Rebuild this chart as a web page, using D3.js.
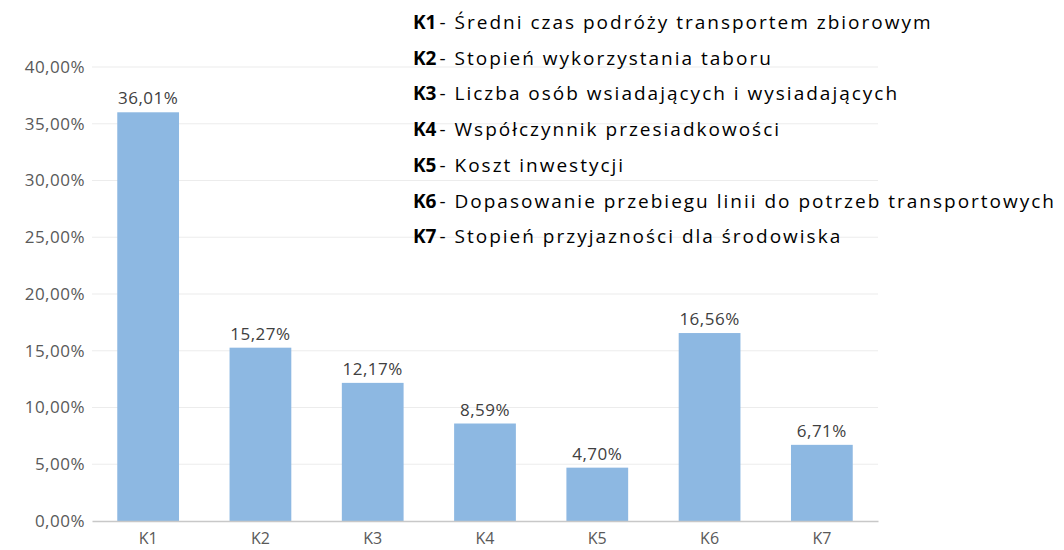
<!DOCTYPE html>
<html>
<head>
<meta charset="utf-8">
<script src="https://cdn.jsdelivr.net/npm/d3@7"></script>
<style>
  body { margin: 0; background: #fff; }
  svg { display: block; }
</style>
</head>
<body>
<script>
var categories = ['K1', 'K2', 'K3', 'K4', 'K5', 'K6', 'K7'];
var values = [36.01, 15.27, 12.17, 8.59, 4.70, 16.56, 6.71];
var yTicks = [0, 5, 10, 15, 20, 25, 30, 35, 40];
var legendNames = [
  'Średni czas podróży transportem zbiorowym',
  'Stopień wykorzystania taboru',
  'Liczba osób wsiadających i wysiadających',
  'Współczynnik przesiadkowości',
  'Koszt inwestycji',
  'Dopasowanie przebiegu linii do potrzeb transportowych',
  'Stopień przyjazności dla środowiska'
];

var w = 1064,
    h = 550;

var plotLeft = 92,
    plotRight = 878,
    plotTop = 67,
    plotBottom = 521;

var fmt = function(v) { return v.toFixed(2).replace('.', ',') + '%'; };

var svg = d3.select('body').append('svg')
  .attr('width', w)
  .attr('height', h)
  .style('font-family', '"Open Sans", sans-serif');

var x = d3.scaleBand()
  .domain(categories)
  .range([plotLeft, plotRight])
  .paddingInner(0.45)
  .paddingOuter(0.225);

var y = d3.scaleLinear()
  .domain([0, 40])
  .range([plotBottom, plotTop]);

// gridlines
svg.append('g')
  .selectAll('line')
  .data(yTicks.slice(1))
  .enter()
  .append('line')
    .attr('x1', plotLeft)
    .attr('x2', plotRight)
    .attr('y1', function(d) { return y(d); })
    .attr('y2', function(d) { return y(d); })
    .attr('stroke', '#ececec')
    .attr('stroke-width', 1.2);

// y axis labels
var yAxis = d3.axisLeft(y)
  .tickValues(yTicks)
  .tickFormat(fmt)
  .tickSize(0)
  .tickPadding(7);

svg.append('g')
  .attr('transform', 'translate(' + plotLeft + ',0)')
  .call(yAxis)
  .call(function(g) { g.select('.domain').remove(); })
  .selectAll('text')
    .attr('fill', '#595959')
    .attr('letter-spacing', '0.5px')
    .style('font-size', '17px')
    .style('font-family', '"Open Sans", sans-serif');

// bars
svg.append('g')
  .selectAll('rect')
  .data(values)
  .enter()
  .append('rect')
    .attr('x', function(d, i) { return x(categories[i]); })
    .attr('y', function(d) { return y(d); })
    .attr('width', x.bandwidth())
    .attr('height', function(d) { return y(0) - y(d); })
    .attr('fill', '#8db8e2');

// value labels
svg.append('g')
  .selectAll('text')
  .data(values)
  .enter()
  .append('text')
    .text(fmt)
    .attr('x', function(d, i) { return x(categories[i]) + x.bandwidth() / 2; })
    .attr('y', function(d) { return y(d) - 8; })
    .attr('text-anchor', 'middle')
    .attr('fill', '#404040')
    .attr('letter-spacing', '0.5px')
    .style('font-size', '17px');

// x axis
var xAxis = d3.axisBottom(x).tickSize(0).tickPadding(12);

svg.append('g')
  .attr('transform', 'translate(0,' + plotBottom + ')')
  .call(xAxis)
  .call(function(g) {
    g.select('.domain').attr('stroke', '#c8c8c8').attr('stroke-width', 1.5);
  })
  .selectAll('text')
    .attr('fill', '#595959')
    .style('font-size', '16px')
    .style('font-family', '"Open Sans", sans-serif');

// legend
var legend = svg.append('g')
  .attr('transform', 'translate(413,29)')
  .selectAll('text')
  .data(legendNames)
  .enter()
  .append('text')
    .attr('x', 0)
    .attr('y', function(d, i) { return i * 35.7; })
    .attr('fill', '#000')
    .style('font-size', '19px');

legend.append('tspan')
  .attr('font-weight', 'bold')
  .text(function(d, i) { return categories[i]; });

legend.append('tspan')
  .attr('dx', 3)
  .attr('letter-spacing', '2px')
  .text(function(d) { return '- ' + d; });
</script>
</body>
</html>
